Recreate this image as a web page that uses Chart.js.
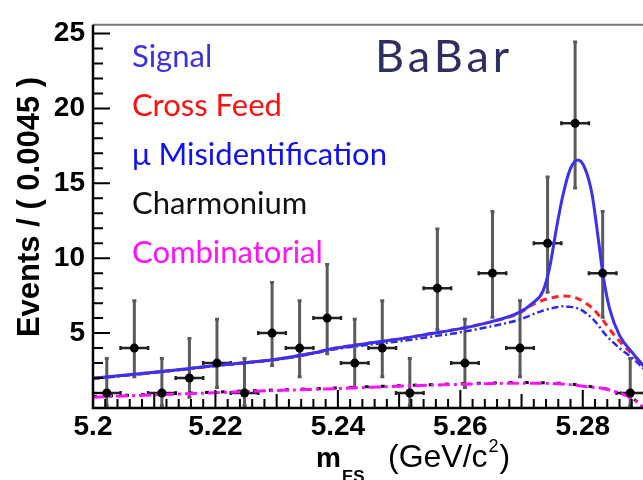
<!DOCTYPE html>
<html>
<head>
<meta charset="utf-8">
<script src="https://cdn.jsdelivr.net/npm/chart.js@4.4.1/dist/chart.umd.min.js"></script>
<style>
  html, body { margin: 0; padding: 0; background: #fff; overflow: hidden; }
  #wrap { position: absolute; left: 0; top: 0; width: 650px; height: 480px; }
</style>
</head>
<body>
<div id="wrap"><canvas id="myChart"></canvas></div>
<script>
// histogram of m_ES, bins of 0.0045 GeV/c^2
const binCenters = [5.20225, 5.20675, 5.21125, 5.21575, 5.22025, 5.22475, 5.22925, 5.23375, 5.23825, 5.24275,
                    5.24725, 5.25175, 5.25625, 5.26075, 5.26525, 5.26975, 5.27425, 5.27875, 5.28325, 5.28775];
const counts   = [1, 4, 1, 2, 3, 1, 5, 4, 6, 3, 4, 1, 8, 3, 9, 4, 11, 19, 9, 1];
const errLow   = [0.83, 1.91, 0.83, 1.29, 1.63, 0.83, 2.16, 1.91, 2.38, 1.63, 1.91, 0.83, 2.77, 1.63, 2.94, 1.91, 3.27, 4.32, 2.94, 0.83];
const errHigh  = [2.30, 3.16, 2.30, 2.64, 2.92, 2.30, 3.38, 3.16, 3.58, 2.92, 3.16, 2.30, 3.95, 2.92, 4.11, 3.16, 4.42, 5.44, 4.11, 2.30];
const binHalfWidth = 0.00225;

// fit curves (stacked)
const curveX = [5.200, 5.205, 5.210, 5.215, 5.220, 5.225, 5.230, 5.235, 5.240, 5.245, 5.250, 5.255, 5.260, 5.265,
                5.2697, 5.2718, 5.2735, 5.2746, 5.2757, 5.2767, 5.2779, 5.2792, 5.2803, 5.2815, 5.2825, 5.2833,
                5.2844, 5.2860, 5.2882, 5.2900];
const signalY = [1.98, 2.18, 2.38, 2.60, 2.83, 3.03, 3.25, 3.60, 4.02, 4.32, 4.60, 4.95, 5.30, 5.75,
                 6.40, 7.00, 7.80, 9.40, 12.0, 14.1, 15.9, 16.55, 16.05, 14.3, 11.4, 8.9,
                 6.6, 4.85, 3.65, 2.80];
const crossFeedY = [1.98, 2.18, 2.38, 2.60, 2.83, 3.03, 3.25, 3.60, 4.02, 4.32, 4.60, 4.95, 5.30, 5.75,
                    6.35, 6.90, 7.20, 7.32, 7.42, 7.48, 7.45, 7.30, 7.05, 6.70, 6.25, 5.85,
                    5.25, 4.45, 3.55, 2.75];
const muMisIdY = [1.95, 2.15, 2.35, 2.57, 2.80, 3.00, 3.22, 3.55, 3.95, 4.22, 4.45, 4.75, 5.05, 5.45,
                  5.90, 6.25, 6.50, 6.62, 6.72, 6.80, 6.75, 6.65, 6.40, 6.00, 5.55, 5.10,
                  4.60, 4.00, 3.30, 2.60];
const charmoniumY = [0.76, 0.84, 0.92, 0.99, 1.06, 1.14, 1.21, 1.27, 1.34, 1.42, 1.49, 1.56, 1.62, 1.67,
                     1.70, 1.70, 1.69, 1.68, 1.66, 1.64, 1.60, 1.54, 1.48, 1.42, 1.38, 1.33,
                     1.23, 1.03, 0.63, 0.02];
const combinatorialY = [0.72, 0.80, 0.88, 0.95, 1.02, 1.10, 1.17, 1.23, 1.30, 1.38, 1.45, 1.52, 1.58, 1.63,
                        1.66, 1.66, 1.65, 1.64, 1.62, 1.60, 1.56, 1.50, 1.44, 1.38, 1.35, 1.30,
                        1.20, 1.00, 0.60, 0.00];

const xTickLabels = [5.2, 5.22, 5.24, 5.26, 5.28];
const yTickLabels = [5, 10, 15, 20, 25];

const legendItems = ['Signal', 'Cross Feed', 'μ Misidentification', 'Charmonium', 'Combinatorial'];
const legendColors = ['#3a32e0', '#ff1010', '#1010f0', '#111111', '#ff10ff'];

const pts = (xs, ys) => xs.map((x, i) => ({ x: x, y: ys[i] }));

function curve(label, ys, color, width, dash) {
    return {
        type: 'line',
        label: label,
        data: pts(curveX, ys),
        borderColor: color,
        borderWidth: width,
        borderDash: dash,
        pointRadius: 0,
        fill: false,
        cubicInterpolationMode: 'monotone'
    };
}

const frameAndText = {
    id: 'frameAndText',
    beforeDatasetsDraw(chart) {
        const c = chart.ctx, x = chart.scales.x, y = chart.scales.y;
        c.save();
        c.beginPath();
        c.rect(chart.chartArea.left, chart.chartArea.top, chart.chartArea.right - chart.chartArea.left, chart.chartArea.bottom - chart.chartArea.top);
        c.clip();
        // error bars
        binCenters.forEach((bx, i) => {
            const px = x.getPixelForValue(bx);
            const py = y.getPixelForValue(counts[i]);
            const top = y.getPixelForValue(counts[i] + errHigh[i]);
            const bot = y.getPixelForValue(counts[i] - errLow[i]);
            c.strokeStyle = '#5a5a5a';
            c.lineWidth = 3;
            c.beginPath();
            c.moveTo(px, top); c.lineTo(px, bot);
            c.moveTo(px - 2, top); c.lineTo(px + 2, top);
            c.moveTo(px - 2, bot); c.lineTo(px + 2, bot);
            c.stroke();
            const l = x.getPixelForValue(bx - binHalfWidth), r = x.getPixelForValue(bx + binHalfWidth);
            c.strokeStyle = '#222';
            c.lineWidth = 2.5;
            c.beginPath();
            c.moveTo(l, py); c.lineTo(r, py);
            c.moveTo(l, py - 2); c.lineTo(l, py + 2);
            c.moveTo(r, py - 2); c.lineTo(r, py + 2);
            c.stroke();
        });
        c.restore();
    },
    afterDraw(chart) {
        const c = chart.ctx, x = chart.scales.x, y = chart.scales.y;
        const a = chart.chartArea;
        c.save();
        // frame
        c.strokeStyle = '#777';
        c.lineWidth = 2;
        c.beginPath();
        c.moveTo(a.left, a.top); c.lineTo(a.right, a.top); c.lineTo(a.right, a.bottom);
        c.stroke();
        c.strokeStyle = '#000';
        c.lineWidth = 2.5;
        c.beginPath();
        c.moveTo(a.left, a.top); c.lineTo(a.left, a.bottom); c.lineTo(a.right, a.bottom);
        c.stroke();
        // inner ticks
        c.lineWidth = 2;
        c.beginPath();
        for (let v = 0; v <= 25; v++) {
            const py = y.getPixelForValue(v);
            const len = v % 5 === 0 ? 17 : 10;
            c.moveTo(a.left, py); c.lineTo(a.left + len, py);
        }
        for (let k = 0; k <= 45; k++) {
            const v = 5.2 + k * 0.002;
            const px = x.getPixelForValue(v);
            const len = k % 10 === 0 ? 18 : (k % 5 === 0 ? 14 : 9);
            c.moveTo(px, a.bottom); c.lineTo(px, a.bottom - len);
        }
        c.stroke();

        // axis titles
        c.fillStyle = '#000';
        c.textBaseline = 'alphabetic';
        c.textAlign = 'left';
        c.font = 'bold 28px "Liberation Sans", Arial, sans-serif';
        c.fillText('m', 316, 467);
        c.font = 'bold 17px "Liberation Sans", Arial, sans-serif';
        c.fillText('ES', 342, 482);
        c.font = '32px "Liberation Sans", Arial, sans-serif';
        let tx = 388;
        c.fillText('(GeV/c', tx, 467);
        tx += c.measureText('(GeV/c').width;
        c.font = '18px "Liberation Sans", Arial, sans-serif';
        c.fillText('2', tx + 1, 452);
        tx += c.measureText('2').width + 2;
        c.font = '32px "Liberation Sans", Arial, sans-serif';
        c.fillText(')', tx, 467);

        c.save();
        c.translate(39, 207);
        c.rotate(-Math.PI / 2);
        c.textAlign = 'center';
        c.font = 'bold 31px "Liberation Sans", Arial, sans-serif';
        c.fillText('Events / ( 0.0045 )', 0, 0);
        c.restore();

        // legend text
        c.textAlign = 'left';
        c.font = '31px Lato, "Open Sans", sans-serif';
        legendItems.forEach((t, i) => {
            c.fillStyle = legendColors[i];
            c.fillText(t, 132, 67 + i * 49);
        });
        c.fillStyle = '#2e2e62';
        c.font = '45px Lato, "Open Sans", sans-serif';
        c.letterSpacing = '4px';
        c.fillText('BaBar', 375, 72);
        c.letterSpacing = '0px';
        c.restore();
    }
};

const ctx = document.getElementById('myChart');
const myChart = new Chart(ctx, {
    data: {
        datasets: [
            {
                type: 'scatter',
                label: 'Data',
                data: pts(binCenters, counts),
                backgroundColor: '#000',
                borderWidth: 0,
                pointRadius: 4.5
            },
            curve('Signal', signalY, '#3a32ee', 3, []),
            curve('Cross Feed', crossFeedY, '#ff2020', 3, [7, 5]),
            curve('μ Misidentification', muMisIdY, '#2a2af0', 2.5, [7, 3, 2, 3]),
            curve('Combinatorial', combinatorialY, '#ff10ff', 3, [12, 4, 3, 4]),
            curve('Charmonium', charmoniumY, '#111', 3, [4, 12])
        ]
    },
    options: {
        responsive: true,
        maintainAspectRatio: false,
        animation: false,
        layout: { padding: { top: 13, right: 6, left: 0, bottom: 0 } },
        plugins: { legend: { display: false }, tooltip: { enabled: false } },
        scales: {
            x: {
                type: 'linear',
                min: 5.2,
                max: 5.29,
                grid: { display: false, drawTicks: false },
                border: { display: false },
                afterFit: s => { s.height = 72; },
                afterBuildTicks: s => { s.ticks = xTickLabels.map(v => ({ value: v })); },
                ticks: {
                    autoSkip: false,
                    maxRotation: 0,
                    padding: 2,
                    color: '#000',
                    font: { family: '"Liberation Sans", Arial, sans-serif', size: 28, weight: 'bold' },
                    callback: v => String(+v.toFixed(2))
                }
            },
            y: {
                min: 0,
                max: 25.58,
                grid: { display: false, drawTicks: false },
                border: { display: false },
                afterFit: s => { s.width = 93; },
                afterBuildTicks: s => { s.ticks = yTickLabels.map(v => ({ value: v })); },
                ticks: {
                    padding: 8,
                    color: '#000',
                    font: { family: '"Liberation Sans", Arial, sans-serif', size: 28, weight: 'bold' }
                }
            }
        }
    },
    plugins: [frameAndText]
});
</script>
</body>
</html>
